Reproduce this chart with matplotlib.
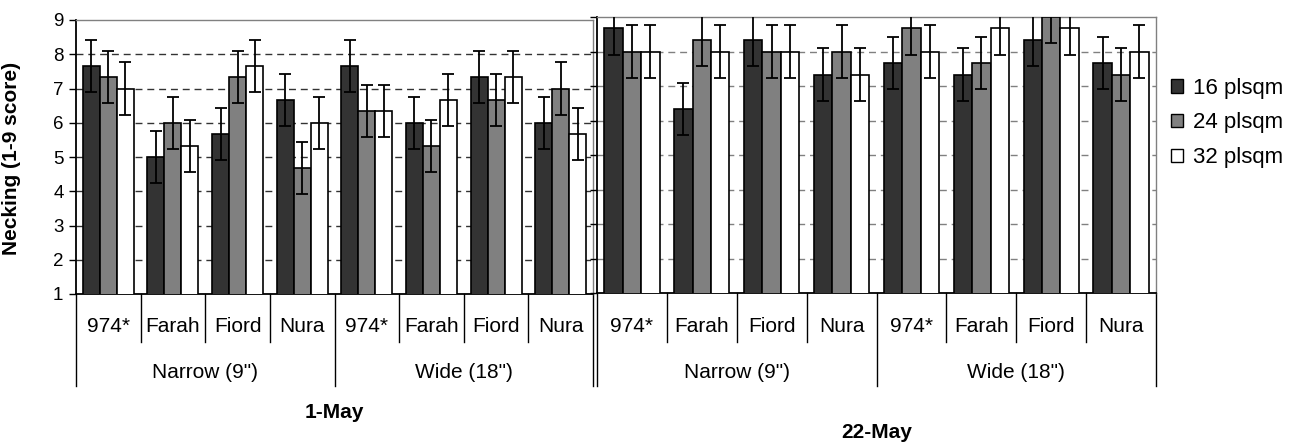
import numpy as np
import matplotlib.pyplot as plt
from matplotlib.patches import Patch
from matplotlib.transforms import blended_transform_factory

plt.rcParams['font.family'] = ['Liberation Sans', 'DejaVu Sans']

cultivars = ["974*", "Farah", "Fiord", "Nura"]
spacings = ['Narrow (9")', 'Wide (18")']
densities = ["16 plsqm", "24 plsqm", "32 plsqm"]
dates = ["1-May", "22-May"]

# necking score, narrow 974*..Nura then wide 974*..Nura
may1_16 = [7.67, 5.0, 5.67, 6.67, 7.67, 6.0, 7.33, 6.0]
may1_24 = [7.33, 6.0, 7.33, 4.67, 6.33, 5.33, 6.67, 7.0]
may1_32 = [7.0, 5.33, 7.67, 6.0, 6.33, 6.67, 7.33, 5.67]
may1_err = 0.76

may22_16 = [8.67, 6.33, 8.33, 7.33, 7.67, 7.33, 8.33, 7.67]
may22_24 = [8.0, 8.33, 8.0, 8.0, 8.67, 7.67, 9.0, 7.33]
may22_32 = [8.0, 8.0, 8.0, 7.33, 8.0, 8.67, 8.67, 8.0]
may22_err = 0.76

colors = ["#333333", "#808080", "#ffffff"]
W, H = 1289, 443


def fy(p):
    # pixel row -> figure fraction
    return 1 - p / H


fig = plt.figure(figsize=(W / 100, H / 100), dpi=100)


def draw_panel(box, series, err, date, date_y, gridcol):
    x0, x1, top, bot = box
    ax = fig.add_axes([x0 / W, fy(bot), (x1 - x0) / W, (bot - top) / H])
    x = np.arange(8)
    w = 0.263
    for k, vals in enumerate(series):
        ax.bar(x + (k - 1) * w, vals, w, color=colors[k], edgecolor="black",
               linewidth=1.2, zorder=3)
        ax.errorbar(x + (k - 1) * w, vals, yerr=err, fmt="none", ecolor="black",
                    elinewidth=1.3, capsize=4.5, capthick=1.3, zorder=4)
    for y in range(2, 9):
        ax.axhline(y, color=gridcol, lw=1, ls=(0, (5, 3.5)), zorder=1)
    ax.set_xlim(-0.5, 7.5)
    ax.set_ylim(1, 9)
    ax.set_yticks(range(1, 10))
    ax.set_xticks([])
    ax.tick_params(axis="y", direction="out", length=5, width=1, labelsize=13.5, pad=4)
    for s in ["top", "right"]:
        ax.spines[s].set_color("#808080")
        ax.spines[s].set_linewidth(1)
    for s in ["left", "bottom"]:
        ax.spines[s].set_color("black")
        ax.spines[s].set_linewidth(1.3)

    # two-level category axis under the bars
    trans = blended_transform_factory(ax.transData, fig.transFigure)
    for i in range(9):
        end = 386 if i % 4 == 0 else 342
        ax.plot([i - 0.5, i - 0.5], [fy(bot), fy(end)], transform=trans,
                color="black", lw=1, clip_on=False)
    for i in range(8):
        ax.text(i, fy(327), cultivars[i % 4], transform=trans, ha="center",
                va="center", fontsize=15)
    for g in range(2):
        ax.text(g * 4 + 1.5, fy(372), spacings[g], transform=trans, ha="center",
                va="center", fontsize=15)
    ax.text(3.5, fy(date_y), date, transform=trans, ha="center", va="center",
            fontsize=15, fontweight="bold")
    return ax


ax1 = draw_panel((76, 593, 20, 294), [may1_16, may1_24, may1_32], may1_err,
                 dates[0], 412, "#333333")
ax2 = draw_panel((597, 1156, 17, 293), [may22_16, may22_24, may22_32], may22_err,
                 dates[1], 432, "#808080")
ax2.tick_params(labelleft=False)

fig.text(2 / W, fy(158), "Necking (1-9 score)", rotation=90, ha="left", va="center",
         fontsize=15, fontweight="bold")

handles = [Patch(facecolor=c, edgecolor="black", linewidth=1) for c in colors]
fig.legend(handles, densities, loc="center left", bbox_to_anchor=(1171 / W, fy(123)),
           frameon=False, fontsize=16, handlelength=0.55, handleheight=0.55,
           handletextpad=0.45, labelspacing=0.62, borderaxespad=0, borderpad=0)

fig.savefig("out.png", dpi=100)
